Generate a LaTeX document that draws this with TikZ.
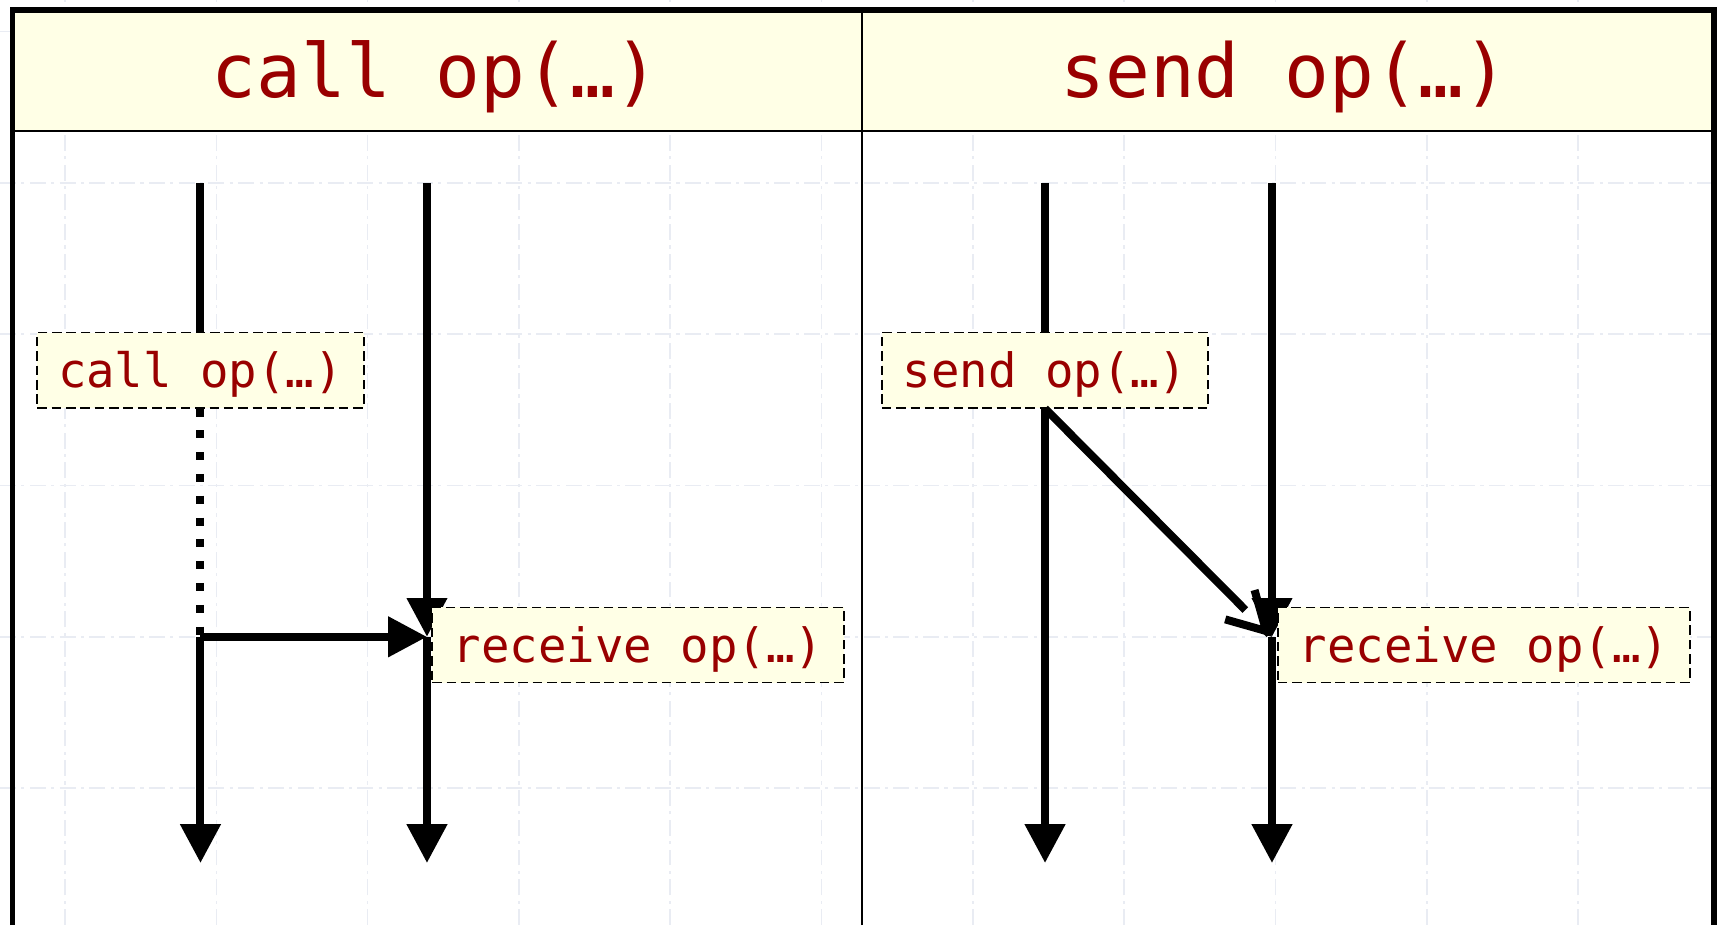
\documentclass[tikz,border=0pt]{standalone}
\usepackage{fontspec}
\setmonofont{DejaVu Sans Mono}
\usetikzlibrary{arrows.meta}
\definecolor{oprot}{HTML}{990000}
\definecolor{notegelb}{HTML}{FFFFE6}
\definecolor{rasterblau}{HTML}{E9ECF3}

\tikzstyle{raster} = [draw=rasterblau, line width=0.3pt, dash pattern=on 3pt off 1pt on 0.6pt off 1pt]
\tikzstyle{kopf} = [font=\ttfamily\fontsize{14}{17}\selectfont, text=oprot]
\tikzstyle{notiz} = [draw, fill=notegelb, line width=0.35pt, dash pattern=on 1.8pt off 0.9pt, font=\ttfamily\fontsize{8.9}{11}\selectfont, text=oprot, inner xsep=3.9pt, inner ysep=0pt, text height=7.6pt, text depth=1pt, minimum height=0.496cm]
\tikzstyle{leben} = [line width=1.5pt]
\tikzstyle{pfeil} = [leben, -{Triangle[length=7.3pt, width=7.3pt]}]
\tikzstyle{offen} = [leben, -{Straight Barb[length=7pt, width=7.8pt]}]

\begin{document}
\begin{tikzpicture}
\useasboundingbox (0,0) rectangle (11.355,6.114);
% raster
\foreach \x in {0,...,10} \draw[raster] (0.43+\x,0) -- (0.43+\x,6.114);
\foreach \y in {0,...,5} \draw[raster] (0,0.905+\y) -- (11.355,0.905+\y);
% kopfzeile und rahmen
\draw[fill=notegelb, line width=0.45pt] (0.083,5.248) rectangle (11.328,6.048);
\draw[line width=0.45pt] (5.697,0) -- (5.697,6.048);
\draw[line width=1pt] (0.083,0) -- (0.083,6.048) -- (11.328,6.048) -- (11.328,0);
\node[kopf] (kopfcall) at (2.88,5.605) {call op(…)};
\node[kopf] (kopfsend) at (8.49,5.605) {send op(…)};
% lebenslinien
\coordinate (topA) at (1.325,4.905);
\coordinate (knickA) at (1.325,1.905);
\coordinate (endA) at (1.325,0.41);
\coordinate (topB) at (2.822,4.905);
\coordinate (rcvA) at (2.822,1.905);
\coordinate (endB) at (2.822,0.41);
\coordinate (topC) at (6.907,4.905);
\coordinate (endC) at (6.907,0.41);
\coordinate (topD) at (8.407,4.905);
\coordinate (rcvB) at (8.407,1.905);
\coordinate (endD) at (8.407,0.41);
\coordinate (barbB) at (8.39,1.922);
\node[notiz] (callbox) at (1.325,3.668) {call op(…)};
\node[notiz] (sendbox) at (6.907,3.668) {send op(…)};
% links: call
\draw[leben] (topA) -- (callbox.north);
\draw[leben, dash pattern=on 1.5pt off 2.6pt] (callbox.south) -- (knickA);
\draw[pfeil] (knickA) -- (endA);
\draw[pfeil] (knickA) -- (rcvA);
\draw[pfeil] (topB) -- (rcvA);
\draw[pfeil] (rcvA) -- (endB);
% rechts: send
\draw[leben] (topC) -- (sendbox.north);
\draw[pfeil] (sendbox.south) -- (endC);
\draw[leben, shorten >=0.25cm] (sendbox.south) -- (rcvB);
\draw[offen] (barbB) -- (rcvB);
\draw[pfeil] (topD) -- (rcvB);
\draw[pfeil] (rcvB) -- (endD);
\node[notiz, anchor=west] (recvA) at (2.85,1.851) {receive op(…)};
\node[notiz, anchor=west] (recvB) at (8.44,1.851) {receive op(…)};
\end{tikzpicture}
\end{document}
